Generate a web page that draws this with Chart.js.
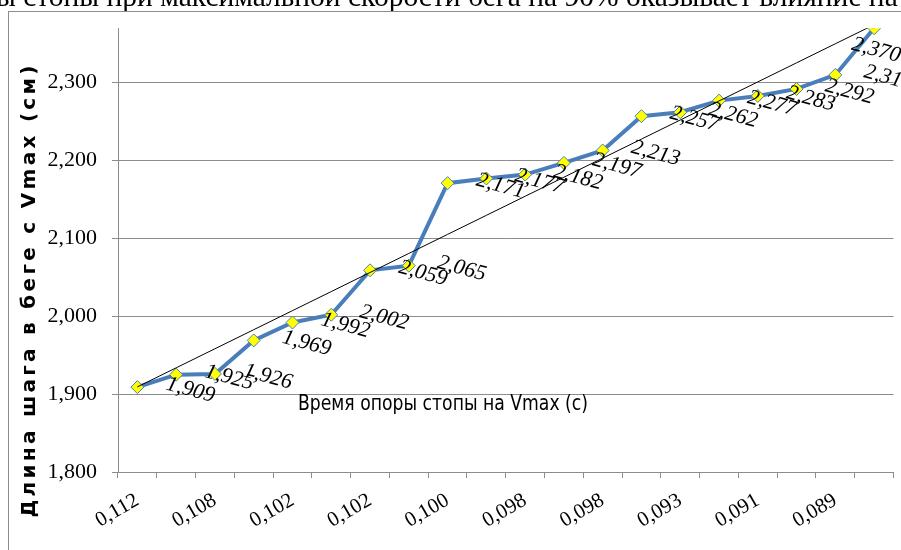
<!DOCTYPE html>
<html>
<head>
<meta charset="utf-8">
<script src="https://cdn.jsdelivr.net/npm/chart.js@4.4.1/dist/chart.umd.min.js"></script>
<style>
  html, body { margin: 0; padding: 0; background: #fff; overflow: hidden; }
  #chart { position: absolute; left: 0; top: 0; }
</style>
</head>
<body>
<canvas id="chart" width="901" height="550"></canvas>
<script>
// time of foot support at Vmax (s); only every other one is printed on the axis
var supportTime = ['0,112', '0,110', '0,108', '0,105', '0,102', '0,102', '0,102', '0,101', '0,100', '0,099',
                   '0,098', '0,098', '0,098', '0,096', '0,093', '0,092', '0,091', '0,090', '0,089', '0,087'];
// stride length at Vmax
var strideLength = [1.909, 1.925, 1.926, 1.969, 1.992, 2.002, 2.059, 2.065, 2.171, 2.177,
                    2.182, 2.197, 2.213, 2.257, 2.262, 2.277, 2.283, 2.292, 2.310, 2.370];
var yTicks = [1.8, 1.9, 2.0, 2.1, 2.2, 2.3];

var caption = 'ы стопы при максимальной скорости бега на 90% оказывает влияние на';
var yTitle = 'Длина шага в беге с Vmax (см)';
var xTitle = 'Время опоры стопы на Vmax (с)';

var serif = '"Liberation Serif"';
var gray = '#8c8c8c';

// linear trend line (least squares), same as the spreadsheet trendline
function linearTrend(vals) {
    var n = vals.length, sx = 0, sy = 0, sxy = 0, sxx = 0;
    vals.forEach(function(v, i) { sx += i; sy += v; sxy += i * v; sxx += i * i; });
    var b = (n * sxy - sx * sy) / (n * sxx - sx * sx);
    var a = (sy - b * sx) / n;
    return vals.map(function(v, i) { return a + b * i; });
}

function fmt(v) { return v.toFixed(3).replace('.', ','); }

var labelPlugin = {
    id: 'pointLabels',
    beforeDraw: function(chart) {
        // page text above the figure and the figure frame
        var ctx = chart.ctx;
        ctx.save();
        ctx.fillStyle = '#000';
        ctx.font = '29.5px ' + serif;
        ctx.textAlign = 'left';
        ctx.textBaseline = 'alphabetic';
        ctx.fillText(caption, -4, 5.7);
        ctx.strokeStyle = gray;
        ctx.lineWidth = 1;
        ctx.strokeRect(8.5, 11.5, 920, 560);
        ctx.restore();
    },
    afterDatasetsDraw: function(chart) {
        var ctx = chart.ctx;
        var meta = chart.getDatasetMeta(1);
        ctx.save();
        ctx.font = 'italic 22px ' + serif;
        ctx.fillStyle = '#000';
        ctx.textAlign = 'center';
        ctx.textBaseline = 'middle';
        meta.data.forEach(function(pt, i) {
            var txt = fmt(strideLength[i]);
            var w = ctx.measureText(txt).width;
            var cx = pt.x + 53, cy = pt.y + 3;
            if (cx + w / 2 > chart.width + 25) { cx = pt.x + 2; cy = pt.y + 22; }
            ctx.save();
            ctx.translate(cx, cy);
            ctx.rotate(15 * Math.PI / 180);
            ctx.fillText(txt, 0, 0);
            ctx.restore();
        });
        ctx.restore();
    },
    afterDraw: function(chart) {
        var ctx = chart.ctx;
        ctx.save();
        ctx.fillStyle = '#000';
        ctx.font = 'bold 20px "DejaVu Sans"';
        ctx.letterSpacing = '3.3px';
        ctx.textAlign = 'center';
        ctx.textBaseline = 'middle';
        ctx.translate(30, 290);
        ctx.rotate(-Math.PI / 2);
        ctx.fillText(yTitle, 0, 0);
        ctx.restore();

        // the x title sits inside the plot area in the original, in a narrow face
        ctx.save();
        ctx.font = '22px "DejaVu Sans Condensed"';
        ctx.fillStyle = '#000';
        ctx.textAlign = 'left';
        ctx.textBaseline = 'alphabetic';
        var w = ctx.measureText(xTitle).width;
        ctx.translate(298, 410);
        ctx.scale(290 / w, 1);
        ctx.fillText(xTitle, 0, 0);
        ctx.restore();
    }
};

var chart = new Chart(document.getElementById('chart'), {
    type: 'line',
    data: {
        labels: supportTime,
        datasets: [{
            data: linearTrend(strideLength),
            borderColor: '#000',
            borderWidth: 1,
            pointRadius: 0,
            fill: false
        }, {
            data: strideLength,
            borderColor: '#4a7ebb',
            borderWidth: 4,
            pointStyle: 'rectRot',
            pointRadius: 6.5,
            pointBackgroundColor: '#ffff00',
            pointBorderColor: '#4a7ebb',
            pointBorderWidth: 1,
            fill: false,
            tension: 0
        }]
    },
    options: {
        responsive: false,
        animation: false,
        layout: { padding: { top: 25, right: 3, left: 0, bottom: 0 } },
        plugins: { legend: { display: false }, tooltip: { enabled: false } },
        scales: {
            x: {
                offset: true,
                grid: { offset: true, drawOnChartArea: false, tickLength: 6, color: gray },
                border: { color: gray, width: 1 },
                ticks: {
                    autoSkip: false, minRotation: 30, maxRotation: 30, padding: 10,
                    color: '#000',
                    font: { family: serif, size: 21 },
                    callback: function(v, i) { return i % 2 === 0 ? supportTime[i] : ''; }
                },
                afterFit: function(s) { s.height = 78; }
            },
            y: {
                min: 1.8,
                max: 2.37,
                afterBuildTicks: function(s) { s.ticks = yTicks.map(function(v) { return { value: v }; }); },
                grid: { color: gray, tickLength: 6 },
                border: { color: gray, width: 1 },
                ticks: {
                    color: '#000', padding: 15,
                    font: { family: serif, size: 22 },
                    callback: function(v) { return fmt(v); }
                },
                afterFit: function(s) { s.width = 118; }
            }
        }
    },
    plugins: [labelPlugin]
});

// canvas picks up the installed serif face only a while after load, so repaint for a bit
var repaints = 0;
var timer = setInterval(function() {
    chart.draw();
    if (++repaints > 40) clearInterval(timer);
}, 75);
</script>
</body>
</html>
